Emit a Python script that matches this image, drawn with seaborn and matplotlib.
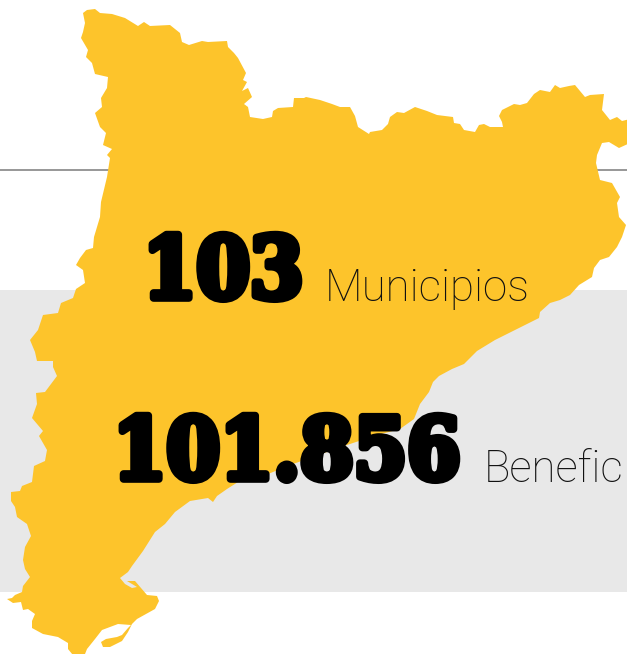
import matplotlib
matplotlib.use("Agg")
import matplotlib.pyplot as plt
import matplotlib.patheffects as pe
import seaborn as sns

outline_x = [83,87,95,100,112,125,138,144,150,170,180,182,189,202,208,227,228,234,238,246,243,247,242,248,252,244,248,250,263,272,273,278,293,294,304,306,320,
 332,340,350,355,358,369,370,382,388,390,397,404,415,427,437,453,454,460,464,475,479,484,490,503,502,499,502,514,520,527,534,540,550,555,560,569,575,585,590,604,602,610,617,622,630,
 630,619,609,602,597,596,600,612,620,617,619,626,622,617,609,600,594,592,579,570,560,550,540,539,525,495,477,464,452,439,433,429,420,414,400,374,347,
 293,263,238,227,217,213,208,190,175,165,155,143,132,128,120,125,132,137,127,135,147,157,159,155,137,132,128,122,110,103,101,106,117,122,128,131,118,102,95,87,85,85,
 77,68,68,58,43,32,32,35,28,23,21,13,7,12,15,22,23,30,25,23,25,31,27,17,15,11,11,20,22,32,34,45,47,39,43,32,37,36,45,57,53,53,37,35,30,38,
 43,58,61,73,76,85,83,76,80,86,93,94,100,101,107,110,107,112,103,106,100,95,102,101,107,108,95,92,86,88,81,83,85]
outline_y = [13,10,9,13,14,18,26,22,26,25,33,42,45,41,42,41,47,53,58,73,80,82,91,88,97,104,107,117,119,117,111,108,107,98,98,97,100,
 104,107,107,116,127,134,132,130,124,117,112,113,107,111,115,117,123,124,130,132,125,124,127,127,122,116,110,104,105,103,94,90,92,85,88,86,85,97,95,94,110,120,117,121,119,
 143,148,142,143,155,163,180,183,197,203,217,225,237,247,257,260,268,277,285,295,300,303,312,318,325,340,351,364,369,376,382,392,404,419,429,436,445,
 464,476,482,489,496,502,498,501,512,524,532,551,566,572,578,584,588,587,581,581,595,596,601,609,619,624,632,641,647,647,642,639,637,635,628,625,624,630,639,649,654,660,
 660,649,643,637,634,628,621,614,609,610,602,603,599,598,595,592,586,577,569,560,547,536,524,517,507,501,492,491,486,482,466,461,450,436,431,418,404,393,392,376,367,361,361,352,340,330,
 315,313,303,298,289,283,270,265,258,250,248,237,217,202,177,158,155,149,145,133,127,113,107,98,88,77,74,63,57,50,38,32,23]

big_numbers = ["103", "101.856"]
unit_labels = ["Municipios", "Benefic"]

YELLOW = "#fdc42b"
BAND = "#e8e8e8"
RULE = "#7a7a7a"

sns.set_theme(style="white")
fig = plt.figure(figsize=(6.27, 6.54), dpi=100, facecolor="white")
ax = fig.add_axes([0, 0, 1, 1])
ax.set_xlim(0, 627)
ax.set_ylim(654, 0)
ax.axis("off")

ax.axhspan(290, 591.5, color=BAND, lw=0, zorder=1)
ax.axhline(169.7, color=RULE, lw=1.1, zorder=2)
ax.fill(outline_x, outline_y, color=YELLOW, lw=0, zorder=3)

heavy = dict(family="DejaVu Serif", stretch="condensed", weight="bold", fontsize=61.5, color="black", va="baseline", ha="left", zorder=5,
             path_effects=[pe.withStroke(linewidth=5.5, foreground="black")])
ax.text(143, 298, big_numbers[0], **heavy)
ax.text(113, 479, big_numbers[1], **heavy)

light = dict(family="Roboto", weight="light", fontsize=31.6, color="#111111", va="baseline", ha="left", zorder=5)
ax.text(325, 301, unit_labels[0], **light)
ax.text(484, 482, unit_labels[1], **light)

fig.savefig("out.png", dpi=100)
